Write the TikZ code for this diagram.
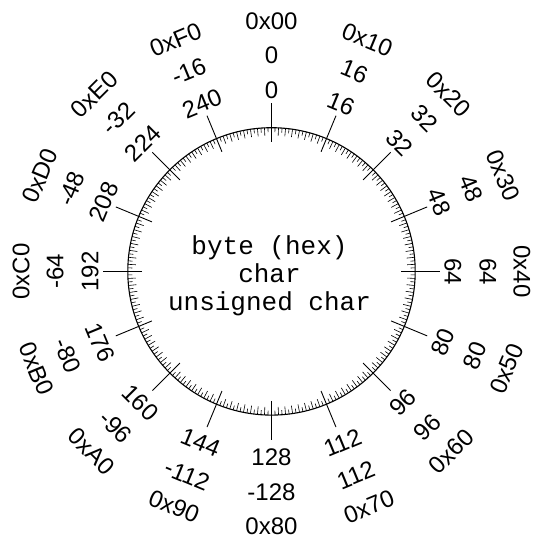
\documentclass[tikz,border=0pt]{standalone}
\usepackage{fontspec}
\setmainfont{Liberation Sans}
\newfontfamily\monofont{Liberation Mono}
\usetikzlibrary{calc}
\begin{document}
\begin{tikzpicture}[x=1pt,y=1pt,
  lbl/.style={font=\fontsize{24}{24}\selectfont, inner sep=0pt},
  ctr/.style={font=\monofont\fontsize{26}{28}\selectfont, inner sep=0pt, anchor=base},
  minortick/.style={line width=0.6pt},
  majortick/.style={line width=0.9pt}]
\fill[white] (0,0) rectangle (534,539);
\useasboundingbox (0,0) rectangle (534,539);
\coordinate (C) at (271.5,267.6);
\draw[line width=1.1pt] (C) circle (143.7);
\foreach \i in {0,...,255}{
  \pgfmathsetmacro\ang{90-\i*1.40625}
  \pgfmathtruncatemacro\mm{mod(\i,16)}
  \pgfmathtruncatemacro\ee{mod(\i,2)}
  \ifnum\mm=0
    \draw[majortick] ($(C)+(\ang:129.5)$) -- ($(C)+(\ang:168.5)$);
  \else\ifnum\ee=0
    \draw[minortick] ($(C)+(\ang:135.7)$) -- ($(C)+(\ang:143.7)$);
  \else
    \draw[minortick] ($(C)+(\ang:139.2)$) -- ($(C)+(\ang:143.7)$);
  \fi\fi
}
\foreach \k/\u/\s/\h in {0/0/0/00,1/16/16/10,2/32/32/20,3/48/48/30,4/64/64/40,5/80/80/50,6/96/96/60,7/112/112/70,8/128/-128/80,9/144/-112/90,10/160/-96/A0,11/176/-80/B0,12/192/-64/C0,13/208/-48/D0,14/224/-32/E0,15/240/-16/F0}{
  \pgfmathsetmacro\tang{22.5*\k}
  \pgfmathsetmacro\rot{-\tang}
  \ifnum\k>4 \ifnum\k<12 \pgfmathsetmacro\rot{180-\tang}\fi\fi
  \node[lbl,rotate=\rot] (u\k) at ($(C)+(90-\tang:183.5)+(\rot-90:2)$) {\u};
  \node[lbl,rotate=\rot] (s\k) at ($(C)+(90-\tang:218.5)+(\rot-90:2)$) {\s};
  \node[lbl,rotate=\rot] (h\k) at ($(C)+(90-\tang:252.5)+(\rot-90:2)$) {0x\h};
}
\node[ctr] (t1) at (269.5,284) {byte (hex)};
\node[ctr] (t2) at (269.5,256) {char};
\node[ctr] (t3) at (269.5,228) {unsigned char};
\end{tikzpicture}
\end{document}
